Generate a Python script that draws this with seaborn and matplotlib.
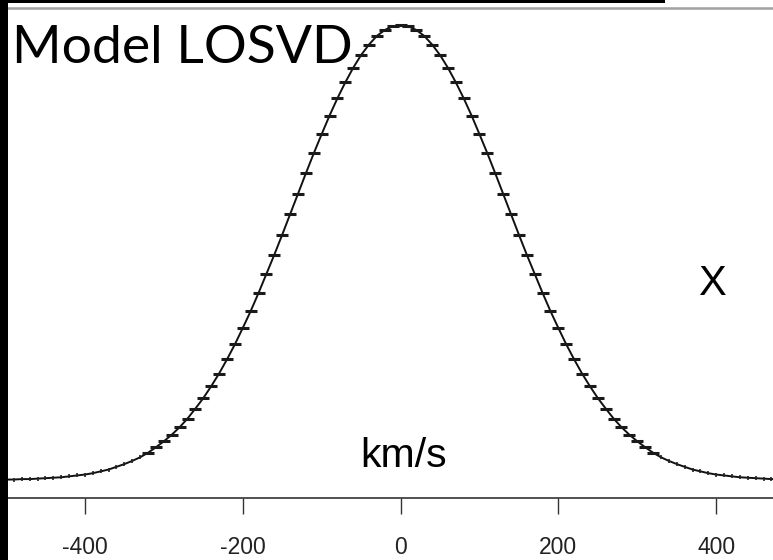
import matplotlib
matplotlib.use("Agg")
import matplotlib.pyplot as plt
from matplotlib.patches import Rectangle
import numpy as np
import pandas as pd
import seaborn as sns

# Line-of-sight velocity distribution, sampled every 10 km/s (relative amplitude)
velocity = list(range(-500, 501, 10))
half_profile = [1.000, 0.997, 0.989, 0.976, 0.957, 0.934, 0.906, 0.874, 0.839, 0.801,
                0.760, 0.718, 0.674, 0.629, 0.584, 0.539, 0.495, 0.453, 0.411, 0.371,
                0.334, 0.298, 0.265, 0.234, 0.206, 0.180, 0.157, 0.135, 0.116, 0.0995,
                0.085, 0.072, 0.060, 0.050, 0.042, 0.035, 0.029, 0.023, 0.019, 0.015,
                0.012, 0.010, 0.008, 0.006, 0.005, 0.004, 0.003, 0.002, 0.002, 0.001,
                0.001]
losvd = half_profile[:0:-1] + half_profile
tick_values = [-400, -200, 0, 200, 400]
tick_labels = ["-400", "-200", "0", "200", "400"]

df = pd.DataFrame({"v": velocity, "f": losvd})
core = df[df["v"].abs() <= 320]
wings = df[df["v"].abs() > 320]

sns.set_theme(style="white")
plt.rcParams["font.family"] = ["Liberation Sans", "DejaVu Sans"]

W, H = 773, 560
fig = plt.figure(figsize=(W / 100, H / 100), dpi=100)
ax = fig.add_axes([8 / W, (H - 498) / H, 1 - 8 / W, 490 / H])

sns.lineplot(data=df, x="v", y="f", ax=ax, color="#111111", linewidth=1.4)
ax.plot(core["v"], core["f"], linestyle="none", marker="_", markersize=8.5,
        markeredgewidth=2.2, color="#1a1a1a")
ax.plot(wings["v"], wings["f"], linestyle="none", marker="|", markersize=3.5,
        markeredgewidth=1.2, color="#222222")

ax.set_xlim(-497.5, 472)
ax.set_ylim(-18 / 455, 472 / 455)
ax.set_xlabel("")
ax.set_ylabel("")
ax.set_yticks([])
ax.set_xticks(tick_values)
ax.set_xticklabels(tick_labels)
ax.tick_params(axis="x", direction="out", length=11.5, width=1.0, color="#333333",
               pad=16, labelsize=16.5, labelcolor="#222222", bottom=True)

for side in ("left", "right"):
    ax.spines[side].set_visible(False)
ax.spines["bottom"].set_color("#333333")
ax.spines["bottom"].set_linewidth(1.2)
ax.spines["top"].set_color("#a0a0a0")
ax.spines["top"].set_linewidth(1.8)

# dark frame pieces on the left edge and along the top
fig.patches.append(Rectangle((0, 0), 8 / W, 1, transform=fig.transFigure,
                             facecolor="black", edgecolor="none", zorder=5))
fig.patches.append(Rectangle((0, 1 - 3 / H), 665 / W, 3 / H, transform=fig.transFigure,
                             facecolor="black", edgecolor="none", zorder=5))

fig.text(12 / W, 1 - 63 / H, "Model LOSVD", fontsize=38.5, family=["Lato", "DejaVu Sans"],
         color="black", va="baseline", ha="left")
fig.text(360 / W, 1 - 467 / H, "km/s", fontsize=29.5, color="black",
         va="baseline", ha="left")
fig.text(698 / W, 1 - 295 / H, "X", fontsize=30, color="black",
         va="baseline", ha="left")

fig.savefig("out.png", dpi=100)
